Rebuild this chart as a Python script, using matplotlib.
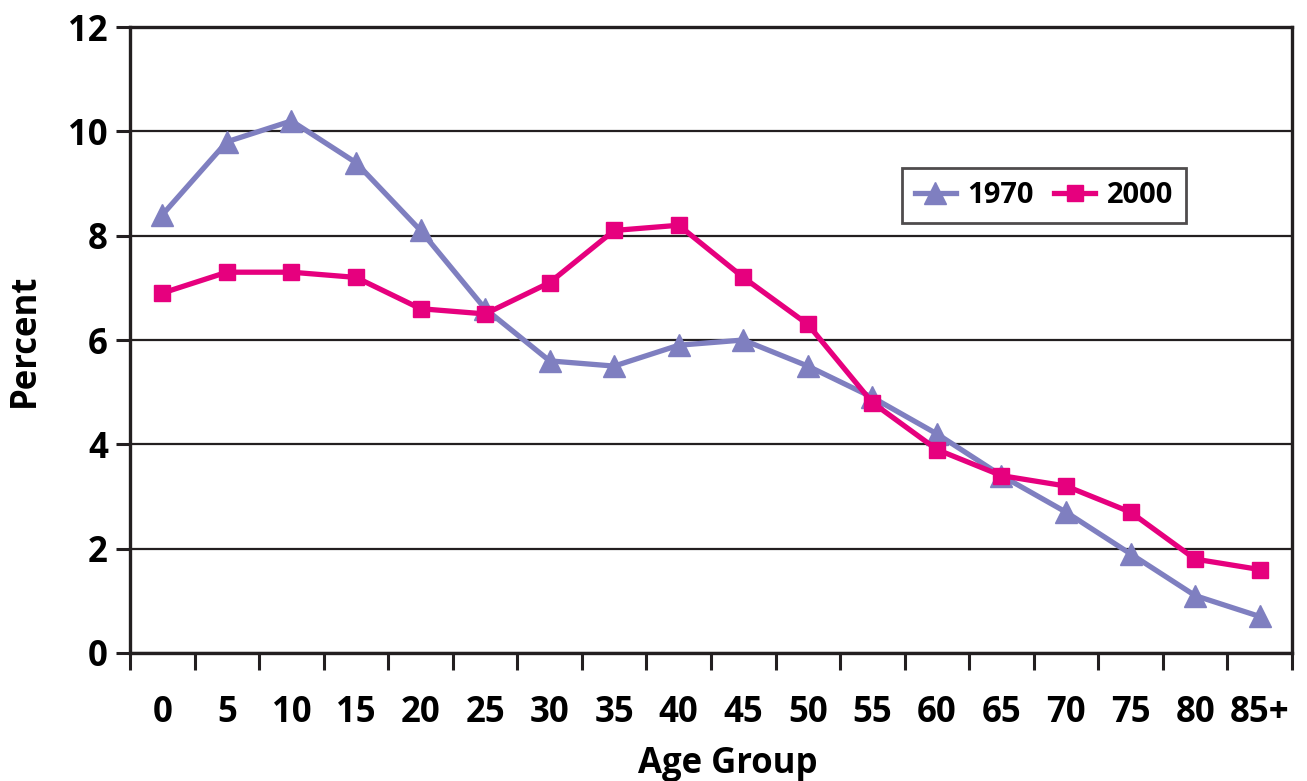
import matplotlib
matplotlib.use("Agg")
import matplotlib.pyplot as plt
import numpy as np

age_groups = ["0", "5", "10", "15", "20", "25", "30", "35", "40", "45",
              "50", "55", "60", "65", "70", "75", "80", "85+"]
pct_1970 = [8.4, 9.8, 10.2, 9.4, 8.1, 6.6, 5.6, 5.5, 5.9, 6.0,
            5.5, 4.9, 4.2, 3.4, 2.7, 1.9, 1.1, 0.7]
pct_2000 = [6.9, 7.3, 7.3, 7.2, 6.6, 6.5, 7.1, 8.1, 8.2, 7.2,
            6.3, 4.8, 3.9, 3.4, 3.2, 2.7, 1.8, 1.6]
y_ticks = [0, 2, 4, 6, 8, 10, 12]

plt.rcParams['font.family'] = ['Open Sans', 'DejaVu Sans']
plt.rcParams['font.weight'] = 'bold'

fig = plt.figure(figsize=(13.07, 7.81), dpi=100)
ax = fig.add_axes([0.0995, 0.1639, 0.889, 0.8015])

x = np.arange(len(age_groups))
ax.plot(x, pct_1970, color='#7f7fc0', lw=3.8, marker='^', ms=16,
        label='1970', zorder=3)
ax.plot(x, pct_2000, color='#e6007e', lw=3.8, marker='s', ms=11,
        label='2000', zorder=3)

ax.set_xlim(-0.5, len(age_groups) - 0.5)
ax.set_ylim(0, 12)
ax.set_yticks(y_ticks)
ax.set_yticklabels([str(v) for v in y_ticks], fontsize=25, fontweight='bold')
ax.yaxis.grid(True, color='#231f20', lw=1.6)
ax.set_axisbelow(True)

# category ticks sit between groups, labels at the centres
ax.set_xticks(np.arange(len(age_groups) + 1) - 0.5)
ax.set_xticklabels([])
ax.set_xticks(x, minor=True)
ax.set_xticklabels(age_groups, minor=True, fontsize=25, fontweight='bold')
ax.tick_params(axis='x', which='major', length=12, width=2.2, color='#231f20')
ax.tick_params(axis='x', which='minor', length=0, pad=30)
ax.tick_params(axis='y', length=10, width=2.2, color='#231f20', pad=6)

for s in ax.spines.values():
    s.set_linewidth(2.4)
    s.set_color('#231f20')

ax.set_xlabel('Age Group', fontsize=25, fontweight='bold')
ax.xaxis.set_label_coords(0.514, -0.148)
ax.set_ylabel('Percent', fontsize=25, fontweight='bold', labelpad=18)

leg = ax.legend(loc='upper left', bbox_to_anchor=(0.664, 0.775), ncol=2,
                prop={'weight': 'bold', 'size': 21},
                frameon=True, fancybox=False, edgecolor='#231f20',
                handlelength=1.4, columnspacing=0.7, handletextpad=0.4,
                borderpad=0.45, borderaxespad=0)
leg.get_frame().set_linewidth(2)

fig.savefig('out.png', dpi=100)
